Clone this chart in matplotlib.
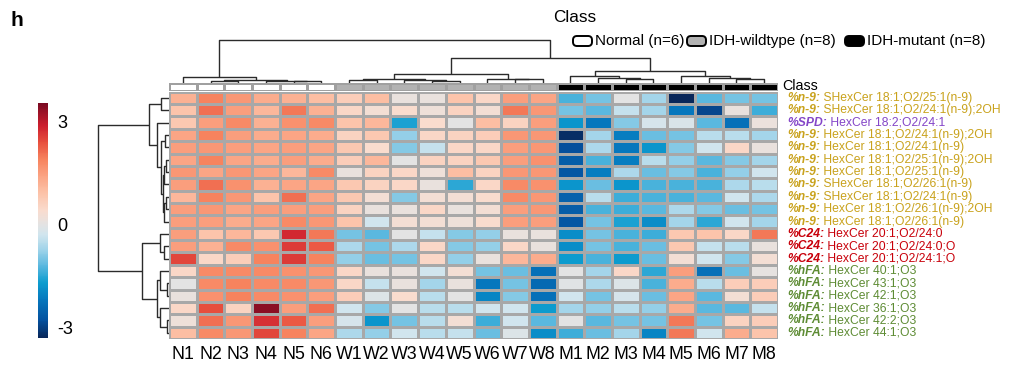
import numpy as np
import matplotlib
matplotlib.use('Agg')
import matplotlib.pyplot as plt
from matplotlib.colors import LinearSegmentedColormap, Normalize, ListedColormap
from matplotlib.patches import FancyBboxPatch
from matplotlib.transforms import IdentityTransform

plt.rcParams['font.family'] = ['Liberation Sans', 'DejaVu Sans']
plt.rcParams['axes.unicode_minus'] = False

# ---------------- data ----------------
samples = ['N1', 'N2', 'N3', 'N4', 'N5', 'N6',
           'W1', 'W2', 'W3', 'W4', 'W5', 'W6', 'W7', 'W8',
           'M1', 'M2', 'M3', 'M4', 'M5', 'M6', 'M7', 'M8']
sample_class = ['Normal'] * 6 + ['IDH-wildtype'] * 8 + ['IDH-mutant'] * 8
class_names = ['Normal', 'IDH-wildtype', 'IDH-mutant']
class_counts = [6, 8, 8]
class_colors = ['#ffffff', '#b2b2b2', '#000000']

row_groups = ['%n-9:', '%n-9:', '%SPD:', '%n-9:', '%n-9:', '%n-9:', '%n-9:',
              '%n-9:', '%n-9:', '%n-9:', '%n-9:', '%C24:', '%C24:', '%C24:',
              '%hFA:', '%hFA:', '%hFA:', '%hFA:', '%hFA:', '%hFA:']
row_names = ['SHexCer 18:1;O2/25:1(n-9)',
             'SHexCer 18:1;O2/24:1(n-9);2OH',
             'HexCer 18:2;O2/24:1',
             'HexCer 18:1;O2/24:1(n-9);2OH',
             'HexCer 18:1;O2/24:1(n-9)',
             'HexCer 18:1;O2/25:1(n-9);2OH',
             'HexCer 18:1;O2/25:1(n-9)',
             'SHexCer 18:1;O2/26:1(n-9)',
             'SHexCer 18:1;O2/24:1(n-9)',
             'HexCer 18:1;O2/26:1(n-9);2OH',
             'HexCer 18:1;O2/26:1(n-9)',
             'HexCer 20:1;O2/24:0',
             'HexCer 20:1;O2/24:0;O',
             'HexCer 20:1;O2/24:1;O',
             'HexCer 40:1;O3',
             'HexCer 43:1;O3',
             'HexCer 42:1;O3',
             'HexCer 36:1;O3',
             'HexCer 42:2;O3',
             'HexCer 44:1;O3']
group_colors = {'%n-9:': '#c9a21c', '%SPD:': '#8446c8',
                '%C24:': '#c8000a', '%hFA:': '#5e8c34'}

# z-scores, rows in display order, columns N1..N6, W1..W8, M1..M8
values = np.array([
    [1.2, 1.9, 1.6, 1.3, 1.2, 1.0,  0.7, 1.0, 0.1, 0.1, 0.9, 0.5, 1.5, 1.4,  -1.3, -1.0, 0.0, -0.7, -3.3, -1.2, -1.0, -1.0],
    [0.9, 2.1, 1.5, 1.1, 2.0, 1.2,  0.5, 0.3, 0.4, 0.2, 0.6, 0.3, 2.0, 1.6,  -1.0, -1.2, -0.4, -0.7, -2.2, -2.9, 0.1, -1.4],
    [0.8, 1.5, 1.8, 1.2, 1.7, 1.8,  0.9, 1.1, -1.6, 0.4, 0.0, 1.0, 0.6, 1.5,  -1.8, -2.2, -0.9, -0.2, -0.15, -1.2, -2.3, 0.15],
    [1.4, 1.9, 1.5, 1.3, 1.4, 1.3,  0.6, 0.8, -0.8, 0.5, 0.6, 0.7, 1.6, 1.6,  -3.2, -0.7, -2.1, -1.1, -1.0, -0.5, -0.5, -0.7],
    [1.5, 1.6, 1.5, 1.4, 1.5, 1.4,  0.8, 0.4, -0.9, -0.4, 0.5, 0.5, 1.5, 1.6,  -2.8, -0.6, -2.2, -1.8, -0.9, -0.3, 0.5, 0.1],
    [1.4, 1.9, 1.4, 1.3, 1.5, 1.3,  0.7, 1.1, 0.0, 0.6, 0.6, 0.8, 1.5, 1.7,  -2.6, -1.3, -2.1, -0.5, -0.8, -1.2, -0.9, -0.7],
    [1.6, 1.4, 1.6, 1.4, 1.1, 1.8,  0.1, 0.6, 0.5, 0.2, 1.0, 0.6, 1.6, 1.6,  -2.7, -2.1, -0.6, -1.1, -0.9, -1.3, -0.8, -0.3],
    [1.5, 2.1, 1.7, 1.2, 1.4, 1.4,  0.8, 0.6, 0.5, 0.1, -1.5, 0.5, 1.8, 1.7,  -1.8, -1.1, -1.8, -1.3, -1.3, -1.3, -0.6, -0.5],
    [1.1, 1.9, 1.6, 0.9, 2.1, 1.4,  0.8, 0.3, -0.9, 0.3, 0.3, 0.4, 1.8, 1.6,  -2.5, -0.5, -1.4, -1.3, -1.3, -1.2, -0.3, -0.6],
    [1.5, 1.6, 1.4, 1.5, 1.5, 1.5,  0.6, 0.1, 0.1, 0.5, 0.1, 0.3, 1.5, 1.6,  -2.6, -1.3, -1.4, -1.2, -0.6, -0.9, -1.1, -1.0],
    [1.5, 1.5, 1.3, 1.4, 1.8, 1.6,  0.9, -0.3, 0.3, 0.3, 0.2, 0.4, 1.5, 1.5,  -2.7, -1.0, -1.6, -1.9, -0.7, -1.5, -0.3, -0.7],
    [1.5, 0.9, 1.1, 0.8, 2.8, 2.0,  -1.0, -1.2, 0.0, -0.4, -0.9, -0.8, 0.1, 0.1,  -1.9, -1.0, -1.3, -1.4, 0.8, 0.9, 0.5, 2.0],
    [1.5, 1.2, 1.8, 1.7, 2.6, 2.3,  -0.6, -1.0, -0.6, 0.5, -0.9, -0.8, 0.5, 0.1,  -1.9, -1.0, -1.3, -1.1, 0.8, -0.4, -0.5, 0.1],
    [2.5, 0.5, 0.7, 1.9, 2.6, 1.9,  -0.8, -1.1, -1.0, 0.5, -0.8, 0.1, 1.1, 1.3,  -1.7, -1.3, -1.7, -1.1, 0.3, -0.3, -0.9, 0.3],
    [0.5, 1.8, 1.8, 1.8, 1.7, 1.6,  0.5, 0.1, 0.1, -0.3, 0.3, -1.0, -1.1, -2.3,  0.0, -0.7, 0.5, -1.5, 1.5, -2.3, -1.1, 0.05],
    [0.0, 1.8, 1.9, 1.8, 1.8, 1.6,  0.5, -0.4, 0.1, -0.7, 0.1, -2.2, -1.0, -2.4,  -0.05, -0.6, -0.1, -1.3, 1.3, -0.5, 0.7, 0.7],
    [0.1, 1.7, 1.9, 1.8, 1.7, 1.5,  0.7, -0.1, 0.4, -0.5, 0.0, -2.0, -0.9, -2.3,  -0.3, -1.0, -0.2, -1.1, 1.4, -1.2, 0.3, 0.7],
    [0.5, 2.4, 0.6, 3.4, 1.5, 2.1,  -0.3, -0.9, 0.0, -0.5, -0.5, -0.3, -0.3, -1.7,  -0.7, -0.8, -0.5, -0.8, 1.3, -1.2, -1.2, -0.4],
    [0.2, 2.1, 1.6, 2.7, 2.3, 1.5,  -0.2, -1.8, -1.0, -0.5, 0.3, -1.4, -0.3, -1.2,  0.0, -1.2, -1.0, -1.0, 2.0, -1.0, 0.6, 0.7],
    [1.0, 1.8, 1.6, 2.5, 1.9, 1.4,  -0.6, -0.8, -0.3, -0.5, -0.4, -1.1, -0.1, -1.9,  -1.4, -1.1, -0.7, -2.0, 2.0, -0.3, 1.3, 0.9],
])

# dendrogram structures: [merge height (px), left, right]
col_tree = [43,
            [6.5, 'N1', [3.5, [2, 'N2', 'N3'], [2.8, 'N4', [2, 'N5', 'N6']]]],
            [25,
             [9.7, [4.7, [3, 'W1', 'W2'], [3, 'W3', [2.3, 'W4', 'W5']]],
              [4.7, 'W6', [4, 'W7', 'W8']]],
             [12, [7, 'M1', [5.3, 'M2', [4, 'M3', 'M4']]],
              [7, 'M5', [5.7, 'M6', [4, 'M7', 'M8']]]]]]
row_tree = [71,
            [20, [8.5, 0, 1],
             [12.3, 2, [8, [4, 3, 4],
                        [6.5, [5, [3, 5, 6], 7], [5.5, [3.5, 8, 9], 10]]]]],
            [27, [9, 11, [5, 12, 13]],
             [12.3, [9, 14, [2.5, 15, 16]], [9, 17, [2.5, 18, 19]]]]]

# colour scale
vmin, vmax = -3.3, 3.55
cmap_nodes = [(-3.3, '#08275a'), (-2.8, '#04509e'), (-2.2, '#0677bd'),
              (-1.7, '#0c9ccf'), (-1.2, '#5bb8df'), (-0.7, '#a3d5ea'),
              (-0.3, '#d0e5ee'), (0.0, '#e3e3e3'), (0.4, '#f9dccf'),
              (0.9, '#fcc4aa'), (1.4, '#fba585'), (1.9, '#f7845f'),
              (2.4, '#e8503e'), (2.9, '#cc1e2e'), (3.55, '#7a0a22')]

# ---------------- figure ----------------
W, H = 1024, 370
fig = plt.figure(figsize=(W / 100, H / 100), dpi=100)


def px_axes(x0, y0, x1, y1):
    return fig.add_axes([x0 / W, 1 - y1 / H, (x1 - x0) / W, (y1 - y0) / H])


cmap = LinearSegmentedColormap.from_list(
    'zs', [((v - vmin) / (vmax - vmin), c) for v, c in cmap_nodes])
norm = Normalize(vmin=vmin, vmax=vmax)

HX0, HX1, HY0, HY1 = 169, 778, 91.7, 339
ncol, nrow = len(samples), len(row_names)

ax = px_axes(HX0, HY0, HX1, HY1)
mesh = ax.pcolormesh(np.arange(ncol + 1), np.arange(nrow + 1), values,
                     cmap=cmap, norm=norm, edgecolors='#a8a8a8', linewidth=0.9)
ax.set_xlim(0, ncol)
ax.set_ylim(nrow, 0)
ax.set_xticks(np.arange(ncol) + 0.5)
ax.set_xticklabels(samples, fontsize=12.8)
ax.tick_params(axis='x', length=0, pad=5)
ax.set_yticks([])
for s in ax.spines.values():
    s.set_visible(False)

# row labels (bold italic prefix + regular name)
for i, (g, n) in enumerate(zip(row_groups, row_names)):
    c = group_colors[g]
    t1 = ax.annotate(g, xy=(1, i + 0.5), xycoords=('axes fraction', 'data'),
                     xytext=(6.5, 0), textcoords='offset points',
                     ha='left', va='center', fontsize=8.7,
                     fontweight='bold', fontstyle='italic', color=c)
    ax.annotate(' ' + n, xy=(1, 0), xycoords=t1, ha='left', va='bottom',
                fontsize=8.7, color=c)

# class annotation bar
axa = px_axes(HX0, 83.3, HX1, 90.7)
codes = np.array([[class_names.index(c) for c in sample_class]])
axa.pcolormesh(np.arange(ncol + 1), [0, 1], codes,
               cmap=ListedColormap(class_colors), vmin=-0.5, vmax=2.5,
               edgecolors='#a0a0a0', linewidth=0.8)
axa.set_xlim(0, ncol)
axa.set_ylim(0, 1)
axa.axis('off')
fig.text(782 / W, 1 - 86 / H, 'Class', fontsize=10.3, ha='left', va='center')


def draw_tree(axd, node, pos, orient):
    if not isinstance(node, list):
        return pos[node], 0.0
    h, a, b = node
    ca, ha = draw_tree(axd, a, pos, orient)
    cb, hb = draw_tree(axd, b, pos, orient)
    if orient == 'top':
        axd.plot([ca, ca, cb, cb], [ha, h, h, hb], color='#2b2b2b', lw=1.0,
                 solid_capstyle='butt')
    else:
        axd.plot([ha, h, h, hb], [ca, ca, cb, cb], color='#2b2b2b', lw=1.0,
                 solid_capstyle='butt')
    return (ca + cb) / 2, h


# column dendrogram
axc = px_axes(HX0, 35, HX1, 83.3)
draw_tree(axc, col_tree, {s: i + 0.5 for i, s in enumerate(samples)}, 'top')
axc.set_xlim(0, ncol)
axc.set_ylim(0, 48.3)
axc.axis('off')

# row dendrogram
axr = px_axes(95, HY0, HX0, HY1)
draw_tree(axr, row_tree, {i: i + 0.5 for i in range(nrow)}, 'left')
axr.set_xlim(74, 0)
axr.set_ylim(nrow, 0)
axr.axis('off')

# colour bar
cax = px_axes(38, 103, 48, 338)
cb = fig.colorbar(mesh, cax=cax, ticks=[-3, 0, 3])
cb.outline.set_visible(False)
cax.tick_params(length=0, labelsize=13, pad=7)

# legend
fig.text(575 / W, 1 - 17 / H, 'Class', fontsize=12.3, ha='center', va='center')
leg_box_x = [573, 687, 845]
leg_text_x = [595, 709, 867]
for name, cnt, col, bx, tx in zip(class_names, class_counts, class_colors,
                                  leg_box_x, leg_text_x):
    p = FancyBboxPatch((bx, H - 46), 19, 10,
                       boxstyle='round,pad=0,rounding_size=4',
                       facecolor=col, edgecolor='black', linewidth=1.4,
                       transform=IdentityTransform())
    fig.add_artist(p)
    fig.text(tx / W, 1 - 41 / H, f'{name} (n={cnt})', fontsize=11,
             ha='left', va='center')

fig.text(10 / W, 1 - 21 / H, 'h', fontsize=15, fontweight='bold',
         ha='left', va='center')

fig.savefig('out.png', dpi=100)
